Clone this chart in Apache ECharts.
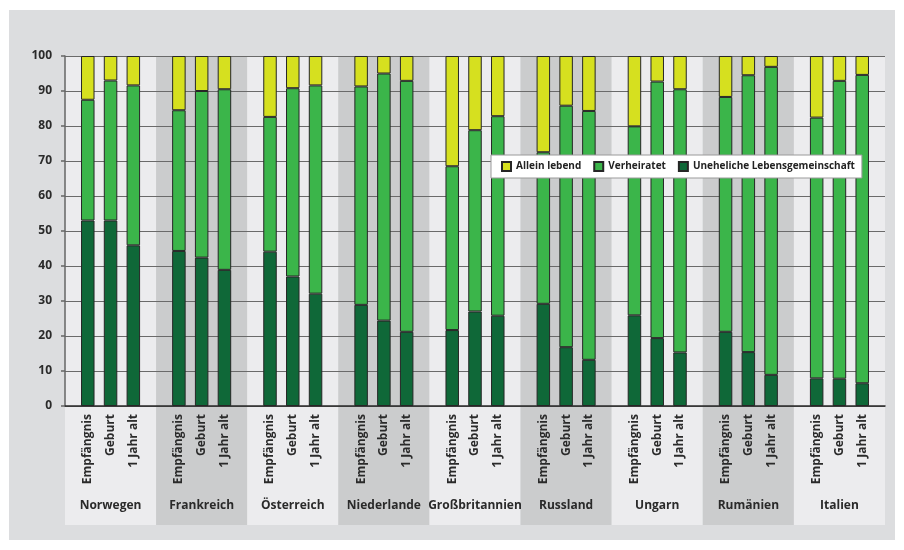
<!DOCTYPE html>
<html>
<head>
<meta charset="utf-8">
<script src="https://cdn.jsdelivr.net/npm/echarts@6/dist/echarts.min.js"></script>
<style>
html,body{margin:0;padding:0;background:#fff;}
#c{width:904px;height:550px;}
</style>
</head>
<body>
<div id="c"></div>
<script>
const countries = ['Norwegen','Frankreich','Österreich','Niederlande','Großbritannien','Russland','Ungarn','Rumänien','Italien'];
const stages = ['Empfängnis','Geburt','1 Jahr alt'];
const seriesNames = ['Uneheliche Lebensgemeinschaft','Verheiratet','Allein lebend'];
// values per bar, in order: country by country, stages Empfängnis, Geburt, 1 Jahr alt
const unehelich = [53.0,53.0,45.9, 44.3,42.4,38.9, 44.1,37.0,32.1, 28.9,24.4,21.2, 21.7,27.0,25.8, 29.2,16.8,13.2, 25.9,19.4,15.3, 21.2,15.4,8.9, 7.9,7.8,6.5];
const verheiratet = [34.5,40.0,45.7, 40.2,47.6,51.6, 38.5,53.8,59.5, 62.4,70.6,71.7, 46.8,51.8,57.0, 43.3,69.0,71.1, 54.0,73.3,75.2, 67.1,79.1,88.0, 74.5,85.1,88.1];
const alleinLebend = [12.5,7.0,8.4, 15.5,10.0,9.5, 17.4,9.2,8.4, 8.7,5.0,7.1, 31.5,21.2,17.2, 27.5,14.2,15.7, 20.1,7.3,9.5, 11.7,5.5,3.1, 17.6,7.1,5.4];
const yTicks = [0,10,20,30,40,50,60,70,80,90,100];

const colors = {'Uneheliche Lebensgemeinschaft':'#0f6838','Verheiratet':'#3bb54a','Allein lebend':'#d6e01f'};
const slots = stages.length + 1; // slots per country; an empty slot separates the groups
const nSlots = countries.length * slots + 1;
// category list for the bar axis: '' for separator slots, stage names for bars
const barCats = [];
for (let i = 0; i < nSlots; i++) { const k = i % slots; barCats.push(k === 0 ? '' : stages[k-1]); }
function toSlots(arr){
  const out = new Array(nSlots).fill(null);
  arr.forEach((v,i)=>{
    const c = Math.floor(i/stages.length), s = i % stages.length;
    out[c*slots + s + 1] = v;
  });
  return out;
}
const valuesByName = {'Uneheliche Lebensgemeinschaft':unehelich,'Verheiratet':verheiratet,'Allein lebend':alleinLebend};

const font = "'Open Sans', 'DejaVu Sans', sans-serif";
const chart = echarts.init(document.getElementById('c'), null, {renderer:'canvas'});
chart.setOption({
  backgroundColor:'#ffffff',
  animation:false,
  graphic:[{type:'rect', z:-10, silent:true, shape:{x:9,y:10,width:886,height:530}, style:{fill:'#dcdddf'}}],
  legend:{
    left:491, top:155, z:10,
    data:['Allein lebend','Verheiratet','Uneheliche Lebensgemeinschaft'],
    backgroundColor:'#ffffff', borderColor:'#9a9a9a', borderWidth:1,
    padding:[6,7,6,10], itemWidth:9, itemHeight:9, itemGap:12, icon:'rect',
    textStyle:{fontFamily:font, fontWeight:'bold', fontSize:10, color:'#222'}
  },
  grid:[
    {left:65, top:56, width:820, height:469},
    {left:65, top:56, width:820, height:350}
  ],
  xAxis:[
    {gridIndex:0, z:-1, type:'category', data:countries, position:'bottom',
     axisLine:{show:false}, axisTick:{show:false},
     splitArea:{show:true, interval:0, areaStyle:{color:['#ececee','#cbcccd']}},
     axisLabel:{inside:true, interval:0, margin:13, fontFamily:font, fontWeight:'bold', fontSize:12, color:'#2a2a2a'}},
    {gridIndex:1, z:1, type:'category', data:barCats, boundaryGap:false,
     splitLine:{show:false}, axisTick:{show:false},
     axisLine:{show:true, lineStyle:{color:'#2a2a2a', width:1.5}},
     axisLabel:{rotate:90, interval:0, margin:8, fontFamily:font, fontWeight:'bold', fontSize:12, color:'#2a2a2a'}}
  ],
  yAxis:[
    {gridIndex:0, z:-1, type:'value', min:0, max:1, show:false, splitLine:{show:false}},
    {gridIndex:1, z:1, type:'value', min:0, max:100, interval:10,
     axisLine:{show:true, lineStyle:{color:'#666', width:1.5}},
     axisTick:{show:true, length:4, lineStyle:{color:'#666', width:1.5}},
     splitLine:{show:true, lineStyle:{color:'#6a6a6a', width:1.2}},
     axisLabel:{margin:13, fontFamily:font, fontWeight:'bold', fontSize:12, color:'#2a2a2a',
       formatter:(v)=> yTicks.includes(v)? String(v):''}}
  ],
  series: seriesNames.map(n=>({
    name:n, type:'bar', stack:'total', xAxisIndex:1, yAxisIndex:1, z:3,
    barWidth:13.5,
    itemStyle:{color:colors[n], borderColor:'#262626', borderWidth:1},
    data: toSlots(valuesByName[n])
  }))
});
</script>
</body>
</html>
